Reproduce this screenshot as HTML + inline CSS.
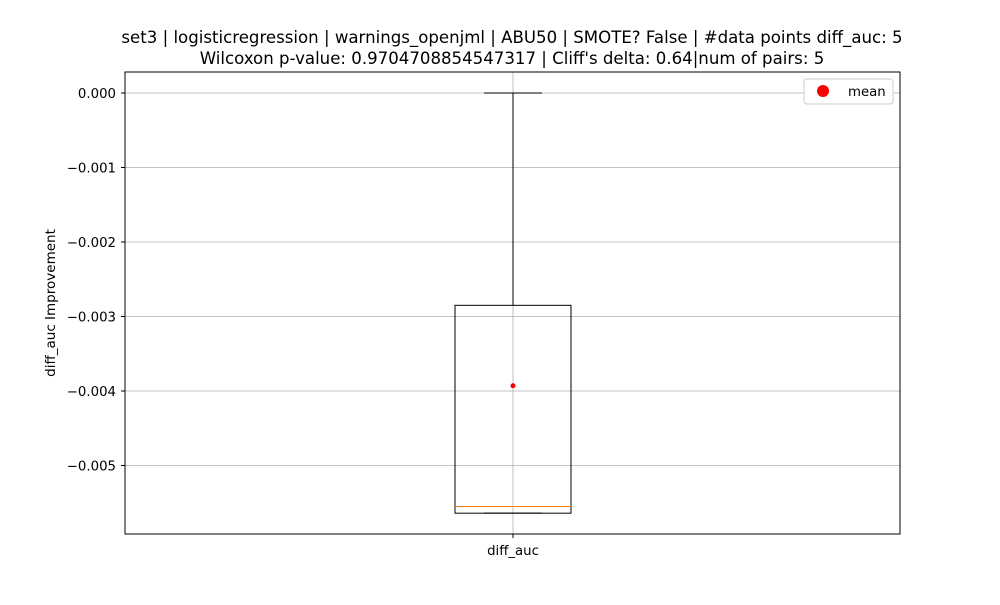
<!DOCTYPE html>
<html><head><meta charset="utf-8"><style>body{margin:0;background:#fff}svg text{font-family:"DejaVu Sans","Liberation Sans",sans-serif}</style></head>
<body>
<svg id="c" width="1000" height="600" xmlns="http://www.w3.org/2000/svg">
<rect width="1000" height="600" fill="#fff"/>
<text x="512" y="43" font-size="16.6" text-anchor="middle">set3 | logisticregression | warnings_openjml | ABU50 | SMOTE? False | #data points diff_auc: 5</text>
<text x="512" y="64" font-size="16.6" text-anchor="middle">Wilcoxon p-value: 0.9704708854547317 | Cliff's delta: 0.64|num of pairs: 5</text>
<text transform="translate(55,303) rotate(-90)" font-size="13.5" text-anchor="middle">diff_auc Improvement</text>
<g id="g"></g>
</svg>
<script>
const yTicks=[0,-0.001,-0.002,-0.003,-0.004,-0.005];
const yTickLabels=["0.000","−0.001","−0.002","−0.003","−0.004","−0.005"];
const categories=["diff_auc"];
const whiskerHigh=[0];
const q3=[-0.00285];
const median=[-0.00555];
const q1=[-0.00564];
const whiskerLow=[-0.00564];
const means=[-0.00393];
const L=125,R=900,T=72,B=534;
const y=v=>93+(-v)*74500;
const x=i=>L+(R-L)*(i+0.5)/categories.length;
const g=document.getElementById('g');
const NS="http://www.w3.org/2000/svg";
function mk(t,a){const e=document.createElementNS(NS,t);for(const k in a)e.setAttribute(k,a[k]);g.appendChild(e);return e;}
yTicks.forEach((v,i)=>{
 const l=mk('line',{x1:L,x2:R,y1:y(v),y2:y(v),stroke:'#b0b0b0','stroke-width':0.8});
 
 
 const t=mk('line',{x1:L-4,x2:L,y1:y(v),y2:y(v),stroke:'#000'});
 
 
 const tx=mk('text',{x:L-9,y:y(v)+5,'font-size':13.3,'text-anchor':'end'});tx.textContent=yTickLabels[i];
 
 
});
categories.forEach((c,i)=>{
 const cx=x(i)+0.5;
 const gl=mk('line',{x1:cx,x2:cx,y1:T,y2:B,stroke:'#b0b0b0','stroke-width':0.8});
 
 
 const w=58,cw=29;
 const wh=mk('line',{x1:cx,x2:cx,y1:y(whiskerHigh[i]),y2:y(q3[i]),stroke:'#000'});
 
 
 const ch=mk('line',{x1:cx-cw,x2:cx+cw,y1:y(whiskerHigh[i]),y2:y(whiskerHigh[i]),stroke:'#000'});
 
 
 const wl=mk('line',{x1:cx,x2:cx,y1:y(q1[i]),y2:y(whiskerLow[i]),stroke:'#000'});
 
 
 const cl=mk('line',{x1:cx-cw,x2:cx+cw,y1:y(whiskerLow[i]),y2:y(whiskerLow[i]),stroke:'#000'});
 
 
 const bx=mk('rect',{x:cx-w,y:y(q3[i]),width:2*w,height:y(q1[i])-y(q3[i]),fill:'none',stroke:'#000'});
 
 
 const md=mk('line',{x1:cx-w,x2:cx+w,y1:y(median[i]),y2:y(median[i]),stroke:'#ff7f0e'});
 
 
 const mn=mk('circle',{cx:cx,cy:y(means[i]),r:2.5,fill:'red'});
 
 
 const xt=mk('line',{x1:cx,x2:cx,y1:B,y2:B+4,stroke:'#000'});
 
 
 const xl=mk('text',{x:cx,y:B+21,'font-size':13.3,'text-anchor':'middle'});xl.textContent=c;
 
 
});
const fr=mk('rect',{x:L,y:T,width:R-L,height:B-T,fill:'none',stroke:'#000'});


const lg=mk('rect',{x:804,y:79,width:89,height:25,rx:3,fill:'#fff',stroke:'#ccc'});


const ld=mk('circle',{cx:823,cy:91,r:6,fill:'red'});


const lt=mk('text',{x:848,y:96,'font-size':13.3});lt.textContent='mean';


</script>
</body></html>
